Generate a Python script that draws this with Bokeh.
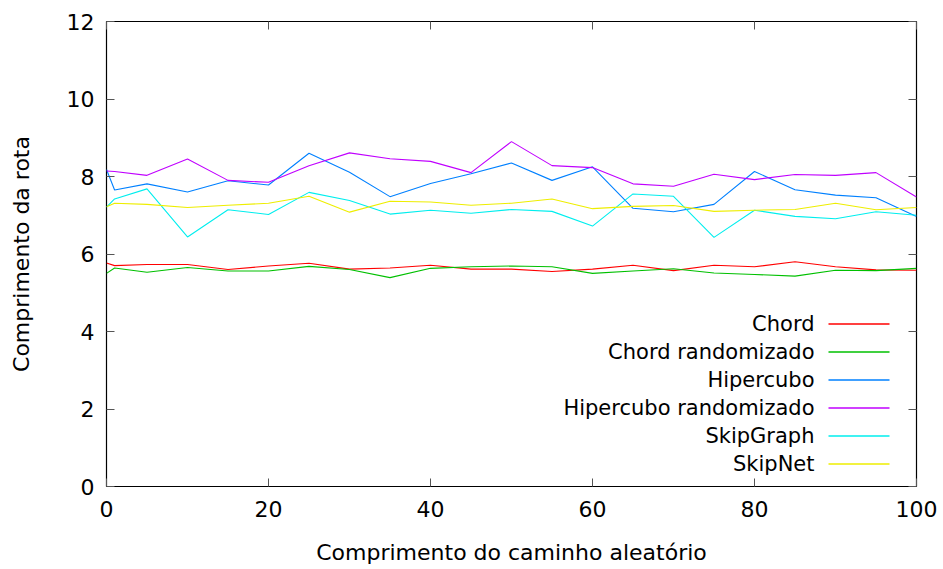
from bokeh.plotting import figure
from bokeh.models import Range1d, LinearAxis, FixedTicker, CustomJSTickFormatter
from bokeh.core.properties import value
from bokeh.embed import file_html
from bokeh.resources import INLINE

# Walk length (x) and route length per overlay (y)
x_vals = [0, 1, 5, 10, 15, 20, 25, 30, 35, 40, 45, 50, 55, 60, 65, 70, 75, 80, 85, 90, 95, 100]

chord = [5.77, 5.70, 5.73, 5.73, 5.60, 5.69, 5.76, 5.61, 5.64, 5.71, 5.61, 5.61,
         5.55, 5.61, 5.71, 5.57, 5.71, 5.67, 5.80, 5.67, 5.59, 5.58]
chord_rand = [5.50, 5.64, 5.53, 5.65, 5.56, 5.56, 5.68, 5.60, 5.39, 5.63, 5.67, 5.69,
              5.67, 5.50, 5.56, 5.62, 5.51, 5.47, 5.43, 5.58, 5.57, 5.63]
hipercubo = [8.18, 7.65, 7.81, 7.60, 7.89, 7.78, 8.60, 8.11, 7.48, 7.82, 8.07, 8.35,
             7.90, 8.25, 7.18, 7.09, 7.28, 8.13, 7.66, 7.52, 7.45, 6.97]
hipercubo_rand = [8.14, 8.13, 8.03, 8.45, 7.90, 7.85, 8.28, 8.61, 8.46, 8.39, 8.10, 8.90,
                  8.28, 8.23, 7.81, 7.75, 8.06, 7.92, 8.05, 8.03, 8.10, 7.47]
skipgraph = [7.21, 7.42, 7.68, 6.44, 7.14, 7.02, 7.59, 7.38, 7.03, 7.13, 7.05, 7.15,
             7.10, 6.72, 7.55, 7.49, 6.43, 7.13, 6.97, 6.91, 7.09, 7.00]
skipnet = [7.22, 7.31, 7.28, 7.20, 7.26, 7.31, 7.49, 7.08, 7.36, 7.34, 7.26, 7.31,
           7.42, 7.17, 7.23, 7.25, 7.10, 7.13, 7.15, 7.31, 7.14, 7.20]

series_names = ["Chord", "Chord randomizado", "Hipercubo", "Hipercubo randomizado",
                "SkipGraph", "SkipNet"]
series_values = [chord, chord_rand, hipercubo, hipercubo_rand, skipgraph, skipnet]
series_colors = ["#ff0000", "#00c000", "#0080ff", "#c000ff", "#00eeee", "#eeee00"]

x_ticks = [0, 20, 40, 60, 80, 100]
y_ticks = [0, 2, 4, 6, 8, 10, 12]

FONT = "DejaVu Sans"
W, H = 943, 569
LEFT, RIGHT, TOP, BOTTOM = 106, 27, 21, 83

p = figure(width=W, height=H, output_backend="svg", toolbar_location=None,
           x_range=Range1d(0, 100), y_range=Range1d(0, 12),
           x_axis_type=None, y_axis_type=None,
           min_border_left=LEFT, min_border_right=RIGHT,
           min_border_top=TOP, min_border_bottom=BOTTOM)
p.xgrid.visible = False
p.ygrid.visible = False
p.outline_line_color = "black"
p.outline_line_width = 1.2
p.background_fill_color = "white"
p.border_fill_color = "white"


def style_axis(ax, labelled):
    ax.major_tick_in = 8
    ax.major_tick_out = 0
    ax.minor_tick_in = 0
    ax.minor_tick_out = 0
    ax.major_tick_line_color = "#555555"
    ax.axis_line_color = None
    if labelled:
        ax.major_label_text_font = FONT
        ax.major_label_text_font_size = "22px"
        ax.major_label_text_color = "black"
        ax.axis_label_text_font = FONT
        ax.axis_label_text_font_size = "22px"
        ax.axis_label_text_font_style = "normal"
        ax.axis_label_text_color = "black"
    else:
        ax.formatter = CustomJSTickFormatter(code="return ''")


bottom = LinearAxis(ticker=FixedTicker(ticks=x_ticks), axis_label="Comprimento do caminho aleatório")
style_axis(bottom, True)
bottom.major_label_standoff = 14
bottom.axis_label_standoff = 20
p.add_layout(bottom, "below")

left = LinearAxis(ticker=FixedTicker(ticks=y_ticks), axis_label="Comprimento da rota")
style_axis(left, True)
left.major_label_standoff = 12
left.axis_label_standoff = 30
p.add_layout(left, "left")

top = LinearAxis(ticker=FixedTicker(ticks=x_ticks))
style_axis(top, False)
p.add_layout(top, "above")

right = LinearAxis(ticker=FixedTicker(ticks=y_ticks))
style_axis(right, False)
p.add_layout(right, "right")

for vals, col in zip(series_values, series_colors):
    p.line(x_vals, vals, line_color=col, line_width=1.1)

# Key in the lower right: label text on the left, line sample on the right
fw, fh = W - LEFT - RIGHT, H - TOP - BOTTOM


def px_x(px):
    return (px - LEFT) / fw * 100.0


def px_y(py):
    return (H - BOTTOM - py) / fh * 12.0


row0, step = 323.5, 28
key_rows = [px_y(row0 + i * step) for i in range(len(series_names))]
for name, col, yy in zip(series_names, series_colors, key_rows):
    p.text(x=[px_x(814)], y=[yy], text=[name], text_align="right",
           text_baseline="middle", text_font=value(FONT), text_font_size="21px",
           text_color="black")
for col, yy in zip(series_colors, key_rows):
    p.line(x=[px_x(828), px_x(889)], y=[yy, yy], line_color=col, line_width=1.4)

open("out.html", "w").write(file_html(p, INLINE))
